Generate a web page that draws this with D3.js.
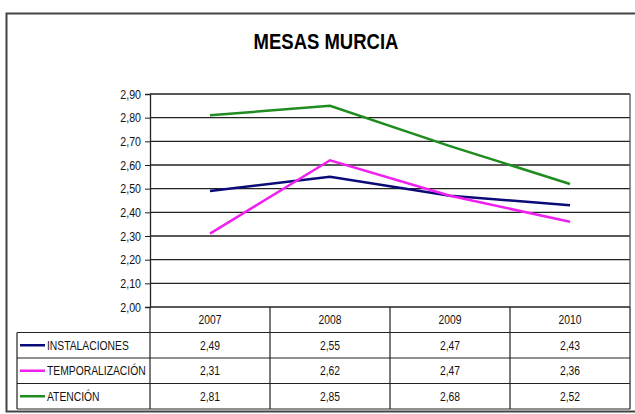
<!DOCTYPE html>
<html>
<head>
<meta charset="utf-8">
<script src="https://cdn.jsdelivr.net/npm/d3@7"></script>
<style>
  body { margin: 0; background: #fff; }
  svg { display: block; font-family: "Liberation Sans Narrow", "Liberation Sans", Arial, sans-serif; }
</style>
</head>
<body>
<svg id="chart"></svg>
<script>
const years = ['2007', '2008', '2009', '2010'];
const seriesNames = ['INSTALACIONES', 'TEMPORALIZACIÓN', 'ATENCIÓN'];
const instalaciones = [2.49, 2.55, 2.47, 2.43];
const temporalizacion = [2.31, 2.62, 2.47, 2.36];
const atencion = [2.81, 2.85, 2.68, 2.52];
const yTicks = [2.0, 2.1, 2.2, 2.3, 2.4, 2.5, 2.6, 2.7, 2.8, 2.9];
const colors = ['#0a0a78', '#f020f0', '#1e8c1e'];

const width = 635;
const height = 414;
const plot = { left: 150, right: 630, top: 94, bottom: 307 };
const rowH = 25.5;

const svg = d3.select('#chart')
    .attr('width', width)
    .attr('height', height);

const fmt = v => v.toFixed(2).replace('.', ',');

// squeeze text horizontally, the original uses a narrow font
const condense = (sel, f) => sel.each(function () {
    const w = this.getComputedTextLength();
    d3.select(this).attr('textLength', w * f).attr('lengthAdjust', 'spacingAndGlyphs');
});

// outer frame
svg.append('rect')
    .attr('x', 6.5).attr('y', 13.5)
    .attr('width', 640).attr('height', 398)
    .attr('fill', 'none')
    .attr('stroke', '#444')
    .attr('stroke-width', 2);

svg.append('text')
    .attr('x', 326).attr('y', 49)
    .attr('text-anchor', 'middle')
    .attr('font-size', 22)
    .attr('font-weight', 'bold')
    .text('MESAS MURCIA')
    .call(condense, 0.84);

const x = d3.scaleBand().domain(years).range([plot.left, plot.right]);
const y = d3.scaleLinear().domain([2.0, 2.9]).range([plot.bottom, plot.top]);

// gridlines
svg.append('g')
    .selectAll('line')
    .data(yTicks)
    .join('line')
    .attr('x1', plot.left).attr('x2', plot.right)
    .attr('y1', d => y(d)).attr('y2', d => y(d))
    .attr('stroke', '#222')
    .attr('stroke-width', 1.3);

// y axis
const yAxis = d3.axisLeft(y)
    .tickValues(yTicks)
    .tickSize(5)
    .tickPadding(4)
    .tickFormat(fmt);
const yg = svg.append('g')
    .attr('transform', `translate(${plot.left},0)`)
    .call(yAxis);
yg.selectAll('text').attr('font-size', 12.5).attr('font-family', null).attr('fill', '#111')
    .call(condense, 0.85);
yg.selectAll('line').attr('stroke', '#222');
yg.select('.domain').attr('stroke', '#222').attr('stroke-width', 1.3);

// right border of plot
svg.append('line')
    .attr('x1', plot.right).attr('x2', plot.right)
    .attr('y1', plot.top).attr('y2', plot.bottom)
    .attr('stroke', '#555').attr('stroke-width', 1.3);

// data table
const tableTop = plot.bottom;
const tableBottom = tableTop + rowH * 4;
const legendLeft = 17;

const tg = svg.append('g').attr('stroke', '#222').attr('stroke-width', 1.2);
tg.selectAll('line.v')
    .data(years.map(d => x(d)).concat([plot.right]))
    .join('line')
    .attr('class', 'v')
    .attr('x1', d => d).attr('x2', d => d)
    .attr('y1', tableTop).attr('y2', tableBottom);
tg.append('line')
    .attr('x1', legendLeft).attr('x2', legendLeft)
    .attr('y1', tableTop + rowH).attr('y2', tableBottom);
tg.selectAll('line.h')
    .data(d3.range(1, 5))
    .join('line')
    .attr('class', 'h')
    .attr('x1', legendLeft).attr('x2', plot.right)
    .attr('y1', i => tableTop + rowH * i).attr('y2', i => tableTop + rowH * i);

// year header
svg.append('g')
    .selectAll('text')
    .data(years)
    .join('text')
    .attr('x', d => x(d) + x.bandwidth() / 2)
    .attr('y', tableTop + rowH / 2 + 4.5)
    .attr('text-anchor', 'middle')
    .attr('font-size', 12)
    .attr('fill', '#111')
    .text(d => d)
    .call(condense, 0.86);

const allSeries = [instalaciones, temporalizacion, atencion];

allSeries.forEach((vals, i) => {
    const cy = tableTop + rowH * (i + 1) + rowH / 2;
    svg.append('line')
        .attr('x1', legendLeft + 3).attr('x2', legendLeft + 28)
        .attr('y1', cy).attr('y2', cy)
        .attr('stroke', colors[i]).attr('stroke-width', 2.5);
    svg.append('text')
        .attr('x', legendLeft + 30).attr('y', cy + 4.5)
        .attr('font-size', 12)
        .attr('fill', '#111')
        .text(seriesNames[i])
        .call(condense, 0.86);
    svg.append('g')
        .selectAll('text')
        .data(vals)
        .join('text')
        .attr('x', (d, j) => x(years[j]) + x.bandwidth() / 2)
        .attr('y', cy + 4.5)
        .attr('text-anchor', 'middle')
        .attr('font-size', 12)
        .attr('fill', '#111')
        .text(fmt)
        .call(condense, 0.86);
});

// lines
const line = d3.line()
    .x((d, j) => x(years[j]) + x.bandwidth() / 2)
    .y(d => y(d));

svg.append('g')
    .selectAll('path')
    .data(allSeries)
    .join('path')
    .attr('d', line)
    .attr('fill', 'none')
    .attr('stroke', (d, i) => colors[i])
    .attr('stroke-width', 2.5);
</script>
</body>
</html>
